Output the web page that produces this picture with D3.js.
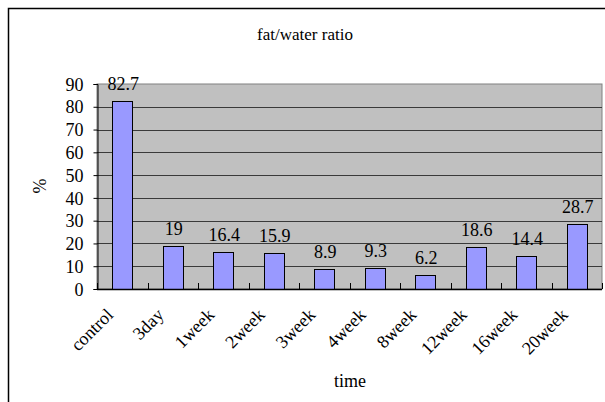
<!DOCTYPE html>
<html><head><meta charset="utf-8">
<script src="https://cdn.jsdelivr.net/npm/d3@7"></script>
<style>body{margin:0;background:#fff}svg{display:block}svg text{font-family:'Liberation Serif' !important}</style>
</head><body>
<script>
const categories = ["control","3day","1week","2week","3week","4week","8week","12week","16week","20week"];
const values = [82.7,19,16.4,15.9,8.9,9.3,6.2,18.6,14.4,28.7];
const yTicks = [0,10,20,30,40,50,60,70,80,90];
const chartTitle = "fat/water ratio";
const xTitle = "time";
const yTitle = "%";

const W = 605, H = 402;
const svg = d3.select("body").append("svg").attr("width", W).attr("height", H)
  .attr("font-family", "Liberation Serif").style("font-family", "Liberation Serif");

function serif(sel, size) {
  return sel.attr("font-family", "Liberation Serif").style("font-family", "Liberation Serif")
    .attr("font-size", size).style("font-size", size + "px").attr("fill", "#000");
}

// outer frame
svg.append("rect").attr("x", 8.5).attr("y", 8.5).attr("width", 640).attr("height", 440)
  .attr("fill", "#fff").attr("stroke", "#000").attr("stroke-width", 1.5);

const L = 97, R = 602, T = 84, B = 289;
const xs = d3.scaleBand().domain(categories).range([L, R]).padding(0);
const ys = d3.scaleLinear().domain([0, 90]).range([B, T]);

// plot background
svg.append("rect").attr("x", L).attr("y", T).attr("width", R - L).attr("height", B - T)
  .attr("fill", "#c0c0c0").attr("stroke", "#808080").attr("stroke-width", 1);

// gridlines
svg.append("g").selectAll("line").data(yTicks.filter(d => d > 0 && d < 90)).join("line")
  .attr("x1", L).attr("x2", R).attr("y1", d => Math.round(ys(d)) + 0.5).attr("y2", d => Math.round(ys(d)) + 0.5)
  .attr("stroke", "#3a3a3a").attr("stroke-width", 1);

// bars
const bw = xs.bandwidth() * 0.4;
svg.append("g").selectAll("rect").data(values).join("rect")
  .attr("x", (d, i) => Math.round(xs(categories[i]) + xs.bandwidth() / 2 - bw / 2) + 0.5)
  .attr("y", d => Math.round(ys(d)) + 0.5)
  .attr("width", Math.round(bw))
  .attr("height", d => Math.round(B) - Math.round(ys(d)))
  .attr("fill", "#9999ff").attr("stroke", "#000").attr("stroke-width", 1);

// y axis
const yAxis = d3.axisLeft(ys).tickValues(yTicks).tickSize(4).tickPadding(10).tickFormat(d3.format("d"));
const ya = svg.append("g").attr("transform", `translate(${L + 0.5},0)`).call(yAxis);
ya.attr("font-family", "Liberation Serif").attr("font-size", 18);
ya.select(".domain").attr("stroke", "#000");
ya.selectAll(".tick line").attr("stroke", "#000");
serif(ya.selectAll("text"), 18).attr("dy", "0.34em");

// x axis line and ticks (inward)
svg.append("line").attr("x1", L).attr("x2", R).attr("y1", B + 0.5).attr("y2", B + 0.5).attr("stroke", "#000").attr("stroke-width", 1.5);
const bounds = categories.map(c => xs(c)).concat([R]);
svg.append("g").selectAll("line").data(bounds).join("line")
  .attr("x1", d => Math.round(d) + 0.5).attr("x2", d => Math.round(d) + 0.5)
  .attr("y1", B).attr("y2", B - 6).attr("stroke", "#000");

// x labels
serif(svg.append("g").selectAll("text").data(categories).join("text"), 18)
  .attr("transform", d => `translate(${xs(d) + xs.bandwidth() / 2 - 8},316) rotate(-45)`)
  .attr("text-anchor", "end").text(d => d);

// value labels
serif(svg.append("g").selectAll("text").data(values).join("text"), 18)
  .attr("x", (d, i) => xs(categories[i]) + xs.bandwidth() / 2 + 1)
  .attr("y", d => ys(d) - 11)
  .attr("text-anchor", "middle").text(d => d);

// titles
serif(svg.append("text"), 17).attr("x", 305).attr("y", 40).attr("text-anchor", "middle").text(chartTitle);
serif(svg.append("text"), 18).attr("x", 350).attr("y", 387).attr("text-anchor", "middle").text(xTitle);
serif(svg.append("text"), 18).attr("transform", "translate(46,186) rotate(-90)").attr("text-anchor", "middle").text(yTitle);
</script>
</body></html>
